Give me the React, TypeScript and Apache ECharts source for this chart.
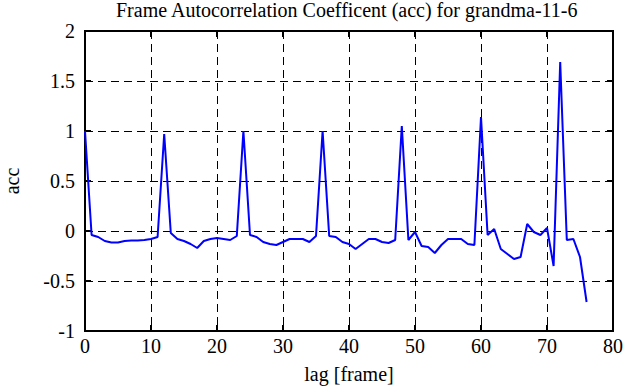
import React, { useEffect, useRef } from "react";
import * as echarts from "echarts";

const lags: number[] = Array.from({ length: 77 }, (_, i) => i);
const acc: number[] = [
  1.0, -0.04, -0.06, -0.1, -0.115, -0.115, -0.1, -0.095, -0.095, -0.09,
  -0.08, -0.06, 0.97, -0.02, -0.08, -0.1, -0.13, -0.17, -0.1, -0.08,
  -0.07, -0.08, -0.09, -0.05, 1.0, -0.04, -0.06, -0.11, -0.13, -0.14,
  -0.11, -0.08, -0.08, -0.08, -0.11, -0.05, 1.0, -0.05, -0.06, -0.11,
  -0.13, -0.18, -0.13, -0.08, -0.08, -0.11, -0.12, -0.09, 1.05, -0.09,
  -0.01, -0.15, -0.16, -0.22, -0.14, -0.08, -0.08, -0.08, -0.13, -0.14,
  1.14, -0.04, 0.02, -0.18, -0.23, -0.28, -0.26, 0.07, -0.01, -0.04,
  0.03, -0.35, 1.69, -0.09, -0.08, -0.26, -0.71,
];

const title = "Frame Autocorrelation Coefficent (acc) for grandma-11-6";
const xName = "lag [frame]";
const yName = "acc";

export default function App() {
  const ref = useRef<HTMLDivElement>(null);
  useEffect(() => {
    if (!ref.current) return;
    const chart = echarts.init(ref.current, null, { renderer: "svg" });
    const font = "Liberation Serif";
    const fs = 20;
    const txt = { fontFamily: font, fontSize: fs, color: "#000", fontWeight: "normal" as const };
    const dashed = { show: true, lineStyle: { color: "#000", type: [8, 5] as any, width: 1 } };
    const tick = { show: true, inside: true, length: 6, lineStyle: { color: "#000", width: 2 } };
    chart.setOption({
      animation: false,
      backgroundColor: "#fff",
      textStyle: { fontFamily: font },
      title: {
        text: title,
        left: 116,
        top: 0,
        padding: 0,
        textStyle: txt,
      },
      grid: {
        left: 85,
        right: 22,
        top: 31,
        bottom: 56,
        outerBoundsMode: "none",
        containLabel: false,
        show: true,
        borderColor: "#000",
        borderWidth: 2,
        backgroundColor: "#fff",
      },
      xAxis: [
        {
          type: "value",
          min: 0,
          max: 80,
          interval: 10,
          name: xName,
          nameLocation: "middle",
          nameGap: 33,
          nameTextStyle: txt,
          axisLine: { show: true, onZero: false, lineStyle: { color: "#000", width: 2 } },
          axisTick: tick,
          axisLabel: { ...txt, margin: 5 },
          splitLine: dashed,
        },
        {
          type: "value",
          position: "top",
          min: 0,
          max: 80,
          interval: 10,
          axisLine: { show: false, onZero: false },
          axisTick: tick,
          axisLabel: { show: false },
          splitLine: { show: false },
        },
      ],
      yAxis: [
        {
          type: "value",
          min: -1,
          max: 2,
          interval: 0.5,
          name: yName,
          nameLocation: "middle",
          nameGap: 63,
          nameRotate: 90,
          nameTextStyle: txt,
          axisLine: { show: true, onZero: false, lineStyle: { color: "#000", width: 2 } },
          axisTick: tick,
          axisLabel: { ...txt, margin: 10 },
          splitLine: dashed,
        },
        {
          type: "value",
          position: "right",
          min: -1,
          max: 2,
          interval: 0.5,
          axisLine: { show: false, onZero: false },
          axisTick: tick,
          axisLabel: { show: false },
          splitLine: { show: false },
        },
      ],
      series: [
        {
          type: "line",
          data: lags.map((l, i) => [l, acc[i]]),
          showSymbol: false,
          lineStyle: { color: "#0000ff", width: 2 },
          xAxisIndex: 0,
          yAxisIndex: 0,
        },
      ],
    });
    return () => chart.dispose();
  }, []);
  return (
    <div
      ref={ref}
      style={{ position: "absolute", left: 0, top: 0, width: 635, height: 387 }}
    />
  );
}
